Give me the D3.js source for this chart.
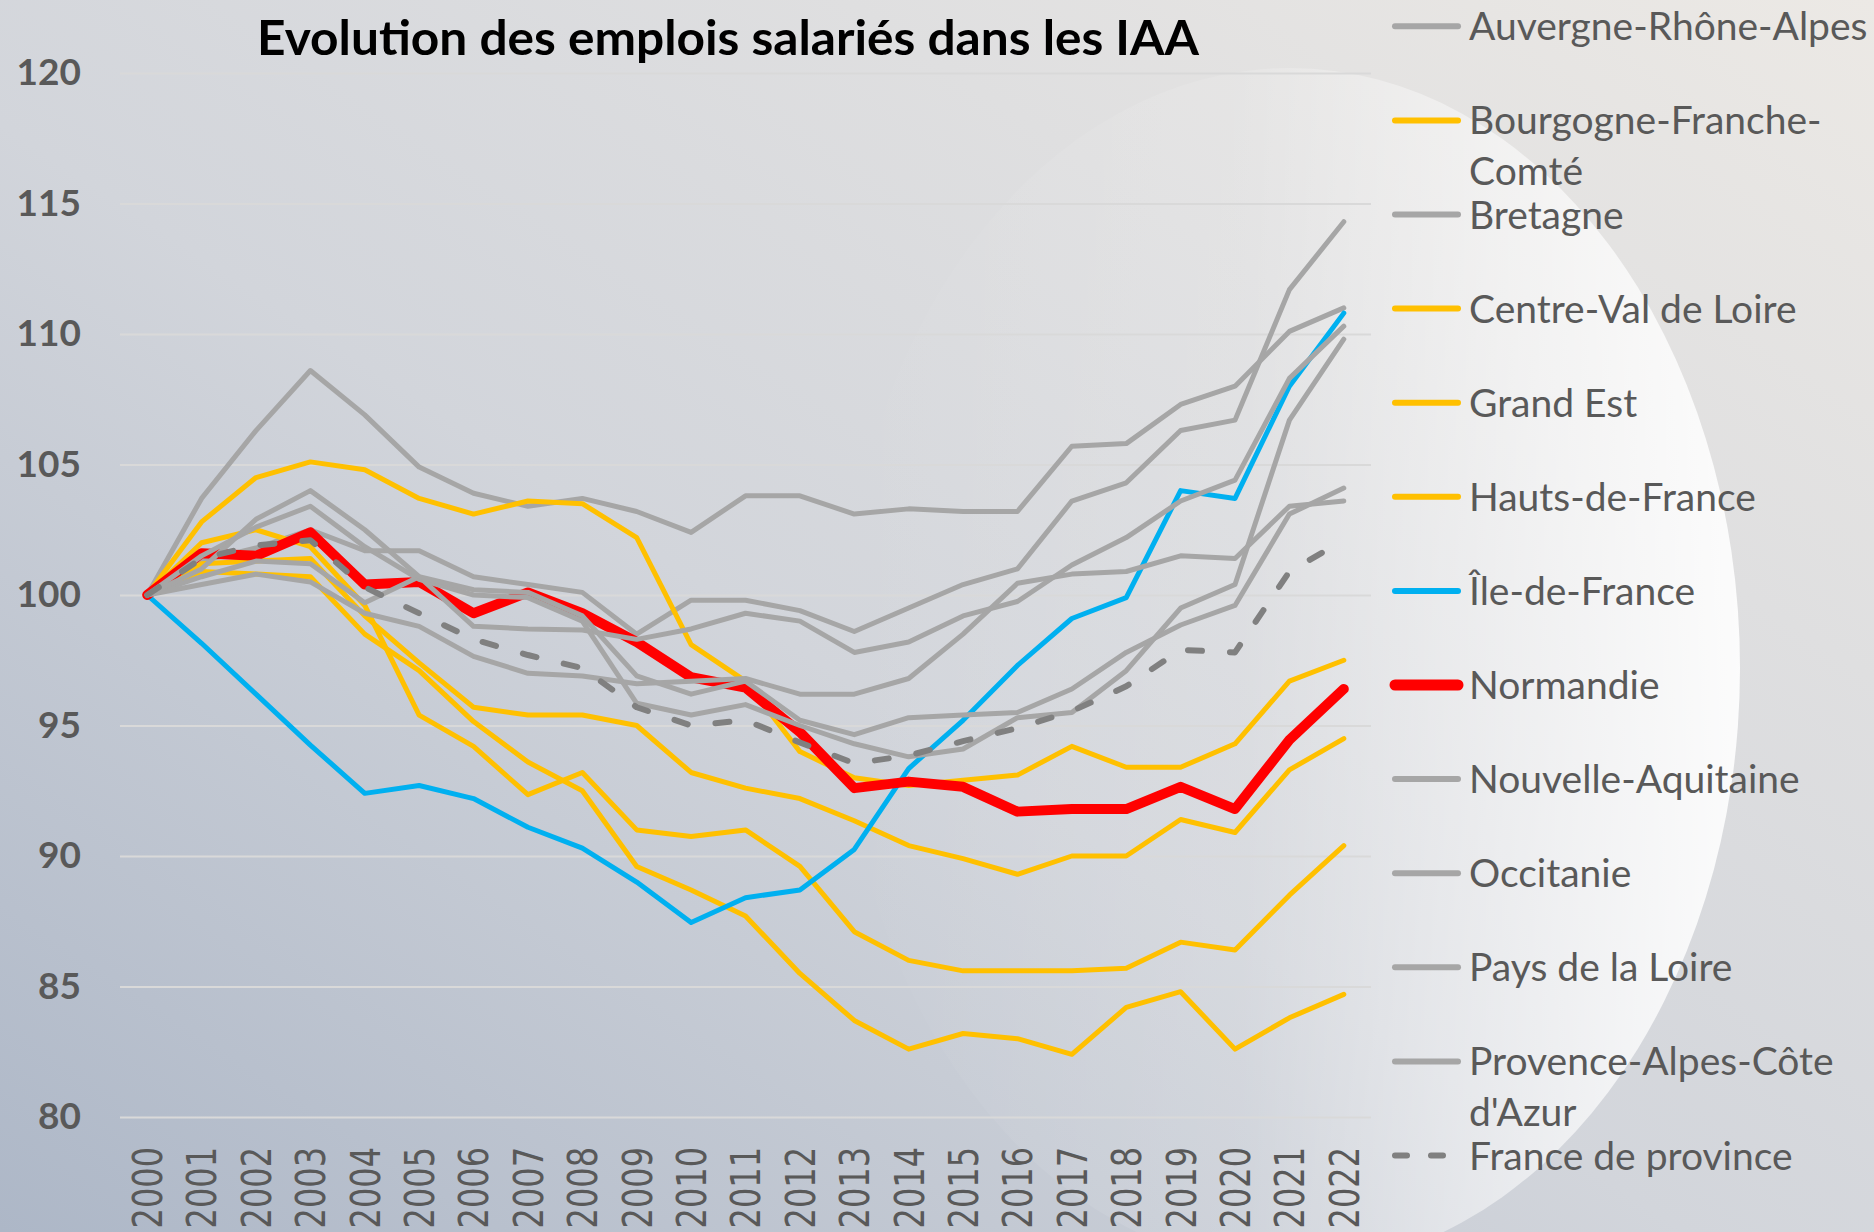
<!DOCTYPE html>
<html>
<head>
<meta charset="utf-8">
<script src="https://cdn.jsdelivr.net/npm/d3@7"></script>
<style>
html, body { margin: 0; padding: 0; overflow: hidden; }
svg { display: block; }
</style>
</head>
<body>
<svg id="chart" width="1874" height="1232"></svg>
<script>
// indices base 100 en 2000
var years = d3.range(2000, 2023).map(String);
var yTicks = [80, 85, 90, 95, 100, 105, 110, 115, 120];

var auvergne   = [100, 103.7, 106.3, 108.6, 106.9, 104.9, 103.9, 103.4, 103.7, 103.2, 102.4, 103.8, 103.8, 103.1, 103.3, 103.2, 103.2, 105.7, 105.8, 107.3, 108.0, 110.1, 111.0];
var bourgogne  = [100, 100.9, 100.8, 100.7, 98.5, 97.1, 95.15, 93.6, 92.5, 89.6, 88.7, 87.7, 85.5, 83.7, 82.6, 83.2, 83.0, 82.4, 84.2, 84.8, 82.6, 83.8, 84.7];
var bretagne   = [100, 101.3, 101.8, 102.5, 101.7, 101.7, 100.7, 100.4, 100.1, 98.5, 99.8, 99.8, 99.4, 98.6, 99.5, 100.4, 101.0, 103.6, 104.3, 106.3, 106.7, 111.7, 114.3];
var centre     = [100, 102.0, 102.5, 101.85, 99.6, 95.4, 94.2, 92.35, 93.2, 91.0, 90.75, 91.0, 89.6, 87.1, 86.0, 85.6, 85.6, 85.6, 85.7, 86.7, 86.4, 88.5, 90.4];
var grandEst   = [100, 101.2, 101.3, 101.4, 99.2, 97.4, 95.7, 95.4, 95.4, 95.0, 93.2, 92.6, 92.2, 91.35, 90.4, 89.9, 89.3, 90.0, 90.0, 91.4, 90.9, 93.3, 94.5];
var hauts      = [100, 102.8, 104.5, 105.1, 104.8, 103.7, 103.1, 103.6, 103.5, 102.2, 98.1, 96.7, 94.0, 93.0, 92.7, 92.9, 93.1, 94.2, 93.4, 93.4, 94.3, 96.7, 97.5];
var ileDeFrance = [100, 98.15, 96.2, 94.25, 92.4, 92.7, 92.2, 91.1, 90.3, 89.0, 87.45, 88.4, 88.7, 90.25, 93.35, 95.2, 97.3, 99.1, 99.9, 104.0, 103.7, 108.0, 110.8];
var normandie  = [100, 101.6, 101.5, 102.4, 100.4, 100.5, 99.3, 100.1, 99.3, 98.2, 96.85, 96.45, 94.75, 92.6, 92.85, 92.65, 91.7, 91.8, 91.8, 92.65, 91.8, 94.45, 96.4];
var aquitaine  = [100, 100.7, 101.3, 101.2, 99.7, 100.7, 98.8, 98.7, 98.66, 98.3, 98.7, 99.3, 99.0, 97.8, 98.2, 99.2, 99.75, 101.15, 102.2, 103.6, 104.4, 108.3, 110.3];
var occitanie  = [100, 101.5, 102.6, 103.4, 101.85, 100.6, 100.0, 99.9, 99.0, 95.85, 95.4, 95.8, 95.0, 94.3, 93.8, 94.1, 95.3, 95.5, 97.1, 99.5, 100.4, 106.7, 109.8];
var paysLoire  = [100, 101.0, 102.9, 104.0, 102.5, 100.7, 100.2, 100.1, 99.2, 96.9, 96.2, 96.7, 95.2, 94.65, 95.3, 95.4, 95.5, 96.4, 97.8, 98.85, 99.6, 103.1, 104.1];
var paca       = [100, 100.4, 100.8, 100.5, 99.3, 98.8, 97.65, 97.0, 96.9, 96.6, 96.7, 96.8, 96.2, 96.2, 96.8, 98.5, 100.45, 100.8, 100.9, 101.5, 101.4, 103.4, 103.6];
var province   = [100, 101.4, 101.9, 102.1, 100.3, 99.3, 98.3, 97.7, 97.2, 95.7, 95.0, 95.2, 94.35, 93.55, 93.85, 94.4, 94.9, 95.55, 96.5, 97.9, 97.8, 100.9, 102.1];

var GREY = "#a6a6a6", GOLD = "#ffc000";
var series = [
  {label: ["Auvergne-Rhône-Alpes"], values: auvergne, color: GREY},
  {label: ["Bourgogne-Franche-", "Comté"], values: bourgogne, color: GOLD},
  {label: ["Bretagne"], values: bretagne, color: GREY},
  {label: ["Centre-Val de Loire"], values: centre, color: GOLD},
  {label: ["Grand Est"], values: grandEst, color: GOLD},
  {label: ["Hauts-de-France"], values: hauts, color: GOLD},
  {label: ["Île-de-France"], values: ileDeFrance, color: "#00b0f0"},
  {label: ["Normandie"], values: normandie, color: "#ff0000", width: 10},
  {label: ["Nouvelle-Aquitaine"], values: aquitaine, color: GREY},
  {label: ["Occitanie"], values: occitanie, color: GREY},
  {label: ["Pays de la Loire"], values: paysLoire, color: GREY},
  {label: ["Provence-Alpes-Côte", "d'Azur"], values: paca, color: GREY},
  {label: ["France de province"], values: province, color: "#808080", width: 6, dash: "14,28"}
];

var W = 1874, H = 1232;
var svg = d3.select("#chart");
var defs = svg.append("defs");

var bg = defs.append("linearGradient").attr("id", "bg")
  .attr("x1", "0").attr("y1", "1").attr("x2", "1").attr("y2", "0");
bg.append("stop").attr("offset", "0").attr("stop-color", "#adb7c7");
bg.append("stop").attr("offset", "0.45").attr("stop-color", "#d2d5db");
bg.append("stop").attr("offset", "1").attr("stop-color", "#ece9e5");

var glow = defs.append("linearGradient").attr("id", "glow")
  .attr("x1", "0").attr("y1", "0").attr("x2", "1").attr("y2", "0");
glow.append("stop").attr("offset", "0").attr("stop-color", "#ffffff").attr("stop-opacity", 0);
glow.append("stop").attr("offset", "0.45").attr("stop-color", "#ffffff").attr("stop-opacity", 0.12);
glow.append("stop").attr("offset", "1").attr("stop-color", "#ffffff").attr("stop-opacity", 0.9);

svg.append("rect").attr("width", W).attr("height", H).attr("fill", "url(#bg)");
svg.append("ellipse").attr("cx", 1290).attr("cy", 668).attr("rx", 450).attr("ry", 600)
  .attr("fill", "url(#glow)");

var x = d3.scalePoint().domain(years).range([120, 1371]).padding(0.5);
var y = d3.scaleLinear().domain([80, 120]).range([1117, 73]);

// grille
svg.append("g")
  .attr("transform", "translate(120,0)")
  .call(d3.axisLeft(y).tickValues(yTicks).tickSize(-(1371 - 120)).tickFormat(""))
  .call(function (g) {
    g.select(".domain").remove();
    g.selectAll("line").attr("stroke", "#d9d9d9").attr("stroke-width", 2);
  });

// axe Y
svg.append("g")
  .attr("transform", "translate(120,0)")
  .call(d3.axisLeft(y).tickValues(yTicks).tickSize(0).tickPadding(39))
  .call(function (g) {
    g.select(".domain").remove();
    g.selectAll("text")
      .attr("fill", "#595959")
      .style("font-family", "Lato")
      .style("font-weight", "bold")
      .style("font-size", "37px");
  });

// axe X (années verticales)
svg.append("g")
  .attr("transform", "translate(0,1117)")
  .call(d3.axisBottom(x).tickSize(0))
  .call(function (g) {
    g.select(".domain").remove();
    g.selectAll("text")
      .attr("transform", "scale(1.25,1) rotate(-90)")
      .attr("x", -30).attr("y", 0).attr("dy", "0.36em")
      .attr("text-anchor", "end")
      .attr("fill", "#595959")
      .style("font-family", "DejaVu Sans")
      .style("font-size", "32px");
  });

var line = d3.line()
  .x(function (d, i) { return x(years[i]); })
  .y(function (d) { return y(d); });

svg.append("g").selectAll("path")
  .data(series)
  .join("path")
  .attr("d", function (s) { return line(s.values); })
  .attr("fill", "none")
  .attr("stroke", function (s) { return s.color; })
  .attr("stroke-width", function (s) { return s.width || 5; })
  .attr("stroke-dasharray", function (s) { return s.dash || null; })
  .attr("stroke-linejoin", "round")
  .attr("stroke-linecap", "round");

// titre
svg.append("text")
  .attr("x", 257).attr("y", 55)
  .attr("textLength", 942).attr("lengthAdjust", "spacingAndGlyphs")
  .style("font-family", "Lato")
  .style("font-weight", "bold")
  .style("font-size", "48px")
  .attr("fill", "#000")
  .text("Evolution des emplois salariés dans les IAA");

// légende
var legend = svg.append("g");
var item = legend.selectAll("g")
  .data(series)
  .join("g")
  .attr("transform", function (s, i) { return "translate(0," + (26.3 + i * 94.1) + ")"; });

item.append("line")
  .attr("x1", 1395).attr("x2", 1458)
  .attr("stroke", function (s) { return s.color; })
  .attr("stroke-width", function (s) { return s.width ? s.width + (s.dash ? 0 : 1) : 6; })
  .attr("stroke-dasharray", function (s) { return s.dash ? "12,24" : null; })
  .attr("stroke-linecap", "round");

item.append("text")
  .attr("x", 1469)
  .attr("fill", "#595959")
  .style("font-family", "Lato")
  .style("font-size", "39px")
  .selectAll("tspan")
  .data(function (s) { return s.label; })
  .join("tspan")
  .attr("x", 1469)
  .attr("y", function (d, j) { return j * 51; })
  .attr("dy", "0.36em")
  .text(function (d) { return d; });
</script>
</body>
</html>
